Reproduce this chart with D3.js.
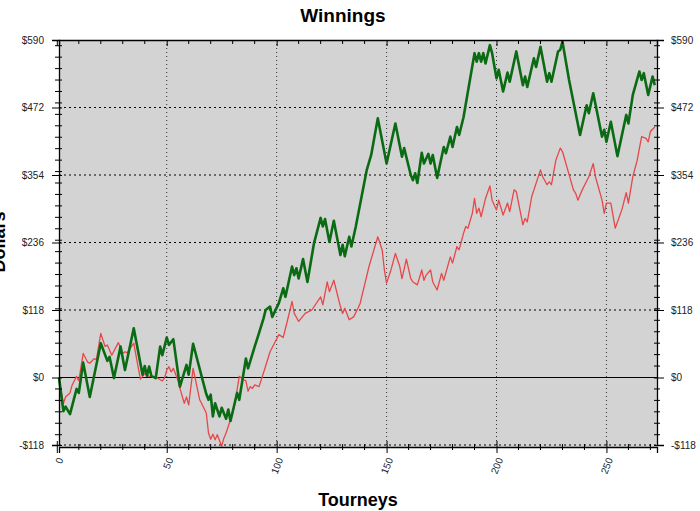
<!DOCTYPE html>
<html>
<head>
<meta charset="utf-8">
<script src="https://cdnjs.cloudflare.com/ajax/libs/d3/7.8.5/d3.min.js"></script>
<style>
  body { margin: 0; background: #fff; }
  svg { display: block; }
  .tick text { font-family: "Liberation Sans", Arial, sans-serif; font-size: 10px; fill: #222; }
</style>
</head>
<body>
<div id="chart"></div>
<script>
// tourney numbers and cumulative winnings at the turning points of each line
const greenTourney = [1,3,4,6,9,10,12,15,20,23,24,26,29,31,35,39,40,41,42,43,45,47,48,50,51,53,56,59,60,62,68,69,70,71,72,74,75,77,78,79,82,83,86,87,90,92,94,95,97,98,101,103,104,107,108,109,110,112,114,117,120,121,122,124,126,129,130,131,133,134,136,141,143,146,150,154,157,158,161,162,163,164,166,167,169,170,171,173,176,177,179,180,182,183,185,187,190,191,192,193,194,195,197,198,200,201,203,205,206,209,212,213,214,217,218,220,223,224,225,228,229,230,233,238,241,242,244,248,249,250,252,255,259,260,262,265,266,267,269,271,272];
const greenValues = [0,-59,-51,-64,-20,-27,26,-34,60,29,36,-1,54,13,86,5,20,3,19,3,-1,54,39,70,57,67,-16,22,5,59,-29,-39,-30,-68,-45,-68,-53,-72,-56,-76,-27,-39,33,16,54,78,103,118,124,106,130,156,141,194,179,191,173,207,167,235,279,264,277,237,274,214,232,212,246,229,264,363,389,453,374,444,386,401,354,345,357,340,393,374,391,374,389,349,403,392,421,403,438,424,455,500,567,552,567,552,567,549,581,567,523,538,500,533,517,570,511,526,508,558,543,578,517,532,517,570,573,587,520,424,476,462,497,421,433,412,447,387,459,444,494,535,520,532,494,526,511];

const redTourney = [1,3,4,6,7,9,10,12,14,15,17,18,20,22,23,25,28,30,31,32,35,38,39,40,42,45,48,49,50,51,52,53,55,56,58,59,60,62,65,68,69,70,71,72,73,75,76,77,80,81,83,85,86,87,88,89,90,92,95,97,99,101,103,105,107,108,110,113,116,120,121,123,124,126,129,130,131,133,135,137,138,140,142,146,148,149,150,152,154,156,157,159,161,162,164,166,167,168,170,171,173,175,176,179,180,182,183,185,186,187,189,190,191,192,193,195,197,198,200,201,203,205,206,208,209,212,213,214,216,220,221,223,224,225,227,229,230,235,236,237,239,242,244,245,248,249,250,252,254,257,259,260,262,264,266,268,269,270,272];
const redValues = [-5,-45,-34,-27,-13,2,-6,42,27,25,33,31,77,54,57,39,61,42,45,43,60,-3,2,7,2,1,-6,-1,13,19,10,16,-4,-19,-45,-34,-48,16,-39,-62,-97,-108,-99,-109,-100,-120,-106,-97,-62,-45,2,-4,-6,-24,-16,-19,-13,-16,20,45,60,75,70,101,133,112,98,112,118,141,127,167,150,170,124,112,121,101,106,121,130,162,194,246,223,188,165,188,217,194,173,207,173,167,162,188,170,179,188,167,153,182,170,211,200,229,223,252,264,261,287,313,287,296,281,313,335,310,293,310,284,305,290,328,325,267,278,272,316,363,351,337,342,337,380,401,395,328,322,310,328,351,374,351,310,287,305,305,261,293,323,305,351,380,421,418,412,430,438];

const majorTicks = [-118, 0, 118, 236, 354, 472, 590];
const xLabels = [0, 50, 100, 150, 200, 250];

const width = 700, height = 511;
const plotLeft = 59, plotRight = 657, plotTop = 40, plotBottom = 445;

const svg = d3.select("#chart").append("svg")
  .attr("width", width).attr("height", height);

const x = d3.scaleLinear().domain([1, 273]).range([plotLeft, plotRight]);
const y = d3.scaleLinear().domain([-118, 590]).range([plotBottom, plotTop]);

const fmt = d => (d < 0 ? "-$" : "$") + Math.abs(d);
const minorY = d3.range(-100, 590, 20);
const minorX = d3.range(10, 273, 10).filter(d => d % 50 !== 0);

// plot background
svg.append("rect")
  .attr("x", plotLeft).attr("y", plotTop)
  .attr("width", plotRight - plotLeft).attr("height", plotBottom + 2 - plotTop)
  .attr("fill", "#d3d3d3");

// horizontal dashed grid
svg.append("g").selectAll("line")
  .data(majorTicks.filter(d => d !== 0 && d !== 590))
  .join("line")
  .attr("x1", plotLeft).attr("x2", plotRight)
  .attr("y1", d => y(d)).attr("y2", d => y(d))
  .attr("stroke", "#000").attr("stroke-width", 1)
  .attr("stroke-dasharray", "2,3");

// vertical dotted grid
svg.append("g").selectAll("line")
  .data(xLabels.filter(d => d > 0))
  .join("line")
  .attr("x1", d => x(d)).attr("x2", d => x(d))
  .attr("y1", plotTop).attr("y2", plotBottom + 2)
  .attr("stroke", "#333").attr("stroke-width", 1)
  .attr("stroke-dasharray", "1,3");

// zero line
svg.append("line")
  .attr("x1", plotLeft).attr("x2", plotRight)
  .attr("y1", y(0)).attr("y2", y(0))
  .attr("stroke", "#000").attr("stroke-width", 1.2);

// lines
const line = d3.line().x(d => x(d[0])).y(d => y(d[1]));
svg.append("path")
  .datum(redTourney.map((t, i) => [t, redValues[i]]))
  .attr("d", line)
  .attr("fill", "none").attr("stroke", "#e8474a").attr("stroke-width", 1.3)
  .attr("stroke-linejoin", "round");
svg.append("path")
  .datum(greenTourney.map((t, i) => [t, greenValues[i]]))
  .attr("d", line)
  .attr("fill", "none").attr("stroke", "#0b6b14").attr("stroke-width", 2.6)
  .attr("stroke-linejoin", "round");

// left axis
const leftAxis = svg.append("g")
  .attr("transform", "translate(" + plotLeft + ",0)")
  .call(d3.axisLeft(y).tickValues(majorTicks).tickFormat(fmt).tickSize(7).tickPadding(8));
leftAxis.selectAll(".tick line").attr("x2", -7).attr("x1", 3);
leftAxis.append("g").selectAll("line").data(minorY.filter(d => !majorTicks.includes(d)))
  .join("line").attr("x1", -4).attr("x2", 3)
  .attr("y1", d => y(d)).attr("y2", d => y(d)).attr("stroke", "#000");

// right axis
const rightAxis = svg.append("g")
  .attr("transform", "translate(" + plotRight + ",0)")
  .call(d3.axisRight(y).tickValues(majorTicks).tickFormat(fmt).tickSize(7).tickPadding(7));
rightAxis.selectAll(".tick line").attr("x2", 7).attr("x1", -3);
rightAxis.append("g").selectAll("line").data(minorY.filter(d => !majorTicks.includes(d)))
  .join("line").attr("x1", -3).attr("x2", 3)
  .attr("y1", d => y(d)).attr("y2", d => y(d)).attr("stroke", "#000");

// bottom axis
const bottomAxis = svg.append("g")
  .attr("transform", "translate(0," + (plotBottom + 2) + ")")
  .call(d3.axisBottom(x).tickValues(xLabels).tickFormat(d3.format("d")).tickSize(6));
bottomAxis.selectAll(".tick line").attr("y1", -6).attr("y2", 6);
bottomAxis.selectAll(".tick text")
  .attr("text-anchor", "end")
  .attr("transform", "translate(3,11) rotate(-68)")
  .attr("dy", "0.35em").attr("y", 0).attr("x", 0);
bottomAxis.append("g").selectAll("line").data(minorX)
  .join("line").attr("x1", d => x(d)).attr("x2", d => x(d))
  .attr("y1", -3).attr("y2", 3).attr("stroke", "#000");

// top axis
const topAxis = svg.append("g")
  .attr("transform", "translate(0," + plotTop + ")")
  .call(d3.axisTop(x).tickValues(xLabels).tickFormat("").tickSize(-6));
topAxis.append("g").selectAll("line").data(minorX)
  .join("line").attr("x1", d => x(d)).attr("x2", d => x(d))
  .attr("y1", 0).attr("y2", 4).attr("stroke", "#000");

svg.selectAll(".domain").attr("stroke", "#000").attr("stroke-width", 1.3);

// titles
svg.append("text")
  .attr("x", 343).attr("y", 22)
  .attr("text-anchor", "middle")
  .style("font-family", "'Liberation Sans', Arial, sans-serif")
  .style("font-weight", "bold").style("font-size", "19px")
  .text("Winnings");

svg.append("text")
  .attr("x", 358).attr("y", 506)
  .attr("text-anchor", "middle")
  .style("font-family", "'Liberation Sans', Arial, sans-serif")
  .style("font-weight", "bold").style("font-size", "18px")
  .text("Tourneys");

// the reference crops this title at the left edge
svg.append("text")
  .attr("transform", "translate(5,242) rotate(-90)")
  .attr("text-anchor", "middle")
  .style("font-family", "'Liberation Sans', Arial, sans-serif")
  .style("font-weight", "bold").style("font-size", "18px")
  .text("Dollars");
</script>
</body>
</html>
